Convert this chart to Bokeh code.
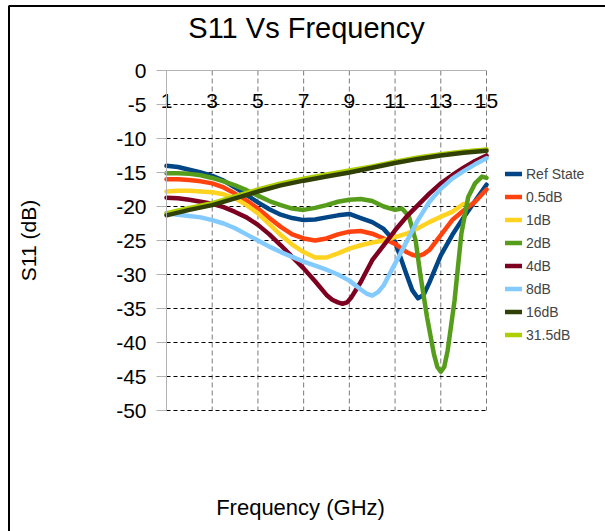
from bokeh.plotting import figure
from bokeh.models import LinearAxis, FixedTicker, Legend, LegendItem, Range1d, Label, BoxAnnotation
from bokeh.embed import file_html
from bokeh.resources import INLINE

# ---------------- data ----------------
title_text = "S11 Vs Frequency"
x_label = "Frequency (GHz)"
y_label = "S11 (dB)"
x_ticks = [1, 3, 5, 7, 9, 11, 13, 15]
y_ticks = [0, -5, -10, -15, -20, -25, -30, -35, -40, -45, -50]

series_names = ["Ref State", "0.5dB", "1dB", "2dB", "4dB", "8dB", "16dB", "31.5dB"]
series_colors = ["#004586", "#ff420e", "#ffd320", "#579d1c", "#7e0021", "#83caff", "#314004", "#aecf00"]

freq_ref = [1, 1.5, 2, 2.5, 3, 3.5, 4, 4.5, 5, 5.5, 6, 6.5, 7, 7.5, 8, 8.5, 9, 9.5, 10, 10.5, 11, 11.5, 11.75, 12, 12.25, 12.5, 13, 13.5, 14, 14.5, 15]
s11_ref = [-14.0, -14.2, -14.6, -15.0, -15.5, -16.2, -17.2, -18.3, -19.4, -20.4, -21.2, -21.7, -22.0, -21.9, -21.6, -21.3, -21.1, -21.7, -22.3, -23.3, -25.2, -30.0, -32.3, -33.5, -33.0, -31.2, -27.2, -24.2, -21.6, -19.2, -16.8]

freq_05 = [1, 1.5, 2, 2.5, 3, 3.5, 4, 4.5, 5, 5.5, 6, 6.5, 7, 7.5, 8, 8.5, 9, 9.5, 10, 10.5, 11, 11.5, 11.75, 12, 12.25, 12.5, 13, 13.5, 14, 14.5, 15]
s11_05 = [-16.0, -16.0, -16.1, -16.3, -16.6, -17.2, -18.1, -19.1, -20.3, -21.7, -23.0, -24.1, -24.7, -25.0, -24.7, -24.1, -23.7, -23.6, -24.0, -24.7, -25.5, -26.7, -27.1, -27.3, -27.0, -26.4, -24.2, -22.0, -20.6, -19.3, -17.5]

freq_1 = [1, 1.5, 2, 2.5, 3, 3.5, 4, 4.5, 5, 5.5, 6, 6.5, 7, 7.5, 8, 8.5, 9, 9.5, 10, 10.5, 11, 11.5, 12, 12.5, 13, 13.5, 14]
s11_1 = [-17.8, -17.7, -17.7, -17.8, -17.9, -18.2, -18.8, -19.8, -21.0, -22.6, -24.2, -25.6, -26.7, -27.5, -27.5, -26.9, -26.2, -25.7, -25.3, -25.0, -24.5, -24.0, -23.2, -22.3, -21.5, -20.8, -19.6]

freq_2 = [1, 1.5, 2, 2.5, 3, 3.5, 4, 4.5, 5, 5.5, 6, 6.5, 7, 7.5, 8, 8.5, 9, 9.5, 10, 10.5, 11, 11.3, 11.6, 11.9, 12.1, 12.4, 12.7, 12.85, 13.0, 13.15, 13.3, 13.6, 13.9, 14.2, 14.5, 14.8, 15]
s11_2 = [-15.1, -15.1, -15.2, -15.4, -15.8, -16.3, -16.9, -17.6, -18.4, -19.2, -19.8, -20.3, -20.5, -20.2, -19.8, -19.3, -19.0, -18.9, -19.2, -20.0, -20.5, -20.3, -21.4, -25.0, -29.9, -36.3, -41.7, -43.6, -44.3, -43.6, -41.2, -33.9, -24.0, -18.6, -16.6, -15.6, -15.8]

freq_4 = [1, 1.5, 2, 2.5, 3, 3.5, 4, 4.5, 5, 5.5, 6, 6.5, 7, 7.5, 8, 8.25, 8.5, 8.7, 8.9, 9.1, 9.5, 10, 10.5, 11, 11.5, 12, 12.5, 13, 13.5, 14, 14.5, 15]
s11_4 = [-18.7, -18.8, -19.0, -19.3, -19.6, -20.1, -20.8, -21.6, -22.7, -24.1, -25.7, -27.4, -29.1, -31.0, -33.0, -33.7, -34.1, -34.3, -34.1, -33.3, -31.1, -27.9, -25.7, -23.5, -21.5, -19.8, -18.1, -16.6, -15.4, -14.3, -13.3, -12.5]

freq_8 = [1, 1.5, 2, 2.5, 3, 3.5, 4, 4.5, 5, 5.5, 6, 6.5, 7, 7.5, 8, 8.5, 9, 9.5, 9.75, 10, 10.25, 10.5, 11, 11.5, 12, 12.5, 13, 13.5, 14, 14.5, 15]
s11_8 = [-21.0, -21.2, -21.4, -21.6, -22.0, -22.5, -23.2, -24.1, -25.0, -25.9, -26.7, -27.4, -28.1, -28.7, -29.3, -30.0, -30.9, -32.2, -32.8, -33.1, -32.6, -31.6, -28.4, -25.2, -22.0, -19.3, -17.4, -15.9, -14.8, -13.8, -12.9]

freq_16 = [1, 2, 3, 4, 5, 6, 7, 8, 9, 10, 11, 12, 13, 14, 15]
s11_16 = [-21.3, -20.5, -19.8, -18.8, -17.8, -16.9, -16.2, -15.6, -15.0, -14.3, -13.6, -13.0, -12.5, -12.1, -11.8]

freq_315 = [1, 2, 3, 4, 5, 6, 7, 8, 9, 10, 11, 12, 13, 14, 15]
s11_315 = [-21.0, -20.2, -19.5, -18.5, -17.5, -16.6, -15.9, -15.3, -14.7, -14.1, -13.4, -12.8, -12.3, -11.9, -11.6]

series_x = [freq_ref, freq_05, freq_1, freq_2, freq_4, freq_8, freq_16, freq_315]
series_y = [s11_ref, s11_05, s11_1, s11_2, s11_4, s11_8, s11_16, s11_315]
draw_order = [0, 1, 2, 3, 4, 5, 7, 6]   # 31.5dB sits under 16dB

FONT = "Liberation Sans"

# ---------------- layout (pixels on the canvas) ----------------
W, H = 605, 531
PX_L, PX_R = 166, 486      # where x = first / last tick sits
PY_T, PY_B = 70, 410       # where y = 0 / -50 sits
kx = (PX_R - PX_L) / (x_ticks[-1] - x_ticks[0])
ky = (PY_B - PY_T) / (y_ticks[0] - y_ticks[-1])
x_start = x_ticks[0] - PX_L / kx
x_end = x_ticks[0] + (W - PX_L) / kx
y_end = y_ticks[0] + PY_T / ky
y_start = y_ticks[0] - (H - PY_T) / ky

p = figure(width=W, height=H,
           x_range=Range1d(x_start, x_end), y_range=Range1d(y_start, y_end),
           output_backend="svg", toolbar_location=None,
           min_border_left=0, min_border_right=0, min_border_top=0, min_border_bottom=0)
p.outline_line_color = None
p.xgrid.visible = False
p.ygrid.visible = False

# chart-area border (left and top edges visible in the window)
p.add_layout(BoxAnnotation(left=8.5, right=W + 20, top=H - 5.5, bottom=-20,
                           left_units="screen", right_units="screen",
                           top_units="screen", bottom_units="screen",
                           fill_color=None, fill_alpha=0,
                           line_color="black", line_alpha=1.0, line_width=2))

# grid lines limited to the plotting box
p.segment(x0=x_ticks, x1=x_ticks, y0=[y_ticks[0]] * len(x_ticks), y1=[y_ticks[-1]] * len(x_ticks),
          line_color="#7a7a7a", line_width=1, line_dash="5 3")
p.segment(x0=[x_ticks[0]] * (len(y_ticks) - 1), x1=[x_ticks[-1]] * (len(y_ticks) - 1),
          y0=y_ticks[1:], y1=y_ticks[1:], line_color="black", line_width=1, line_dash="4 3")

# y axis at x = 1
ya = p.yaxis[0]
ya.fixed_location = x_ticks[0]
ya.bounds = (y_ticks[-1], y_ticks[0])
ya.ticker = FixedTicker(ticks=y_ticks)
ya.major_label_overrides = {t: str(t) for t in y_ticks}
ya.axis_line_color = "#b3b3b3"
ya.major_tick_line_color = "#b3b3b3"
ya.major_tick_in = 0
ya.major_tick_out = 10
ya.minor_tick_line_color = None
ya.major_label_standoff = 10
ya.major_label_text_font = FONT
ya.major_label_text_font_size = "21px"
ya.major_label_text_color = "black"
ya.axis_label = y_label
ya.axis_label_text_font = FONT
ya.axis_label_text_font_size = "21px"
ya.axis_label_text_font_style = "normal"
ya.axis_label_text_color = "black"
ya.axis_label_standoff = 73

# x axis crossing at -5, labels centred on that line
xa = p.xaxis[0]
xa.fixed_location = y_ticks[1]
xa.bounds = (x_ticks[0], x_ticks[-1])
xa.ticker = FixedTicker(ticks=x_ticks)
xa.axis_line_color = None
xa.major_tick_line_color = None
xa.minor_tick_line_color = None
xa.major_tick_in = 0
xa.major_tick_out = 0
xa.major_label_standoff = -11
xa.major_label_text_font = FONT
xa.major_label_text_font_size = "21px"
xa.major_label_text_color = "black"

# grey top edge
top_edge = LinearAxis(fixed_location=y_ticks[0], bounds=(x_ticks[0], x_ticks[-1]),
                      ticker=FixedTicker(ticks=[]), axis_line_color="#b3b3b3",
                      major_tick_line_color=None, minor_tick_line_color=None,
                      major_label_text_font_size="0px")
p.add_layout(top_edge, "above")

# series
renderers = {}
for i in draw_order:
    renderers[i] = p.line(series_x[i], series_y[i], line_color=series_colors[i], line_width=4.5,
                          line_join="round", line_cap="round")

legend = Legend(items=[LegendItem(label=series_names[i], renderers=[renderers[i]]) for i in range(len(series_names))],
                location=(505, 185), orientation="vertical")
legend.border_line_color = None
legend.background_fill_alpha = 0
legend.padding = 0
legend.margin = 0
legend.spacing = 0
legend.label_height = 23
legend.glyph_height = 23
legend.glyph_width = 17
legend.label_standoff = 4
legend.label_text_font = FONT
legend.label_text_font_size = "14px"
p.add_layout(legend)

# chart title and x-axis title
p.add_layout(Label(x=306, y=504, x_units="screen", y_units="screen", text=title_text,
                   text_align="center", text_baseline="alphabetic",
                   text_font=FONT, text_font_size="29px", text_color="black"))
p.add_layout(Label(x=300, y=24, x_units="screen", y_units="screen", text=x_label,
                   text_align="center", text_baseline="alphabetic",
                   text_font=FONT, text_font_size="22px", text_color="black"))

open("out.html", "w").write(file_html(p, INLINE))
